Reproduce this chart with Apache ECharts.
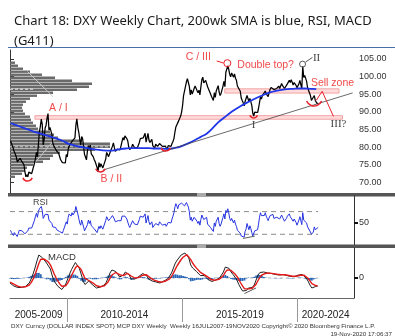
<!DOCTYPE html>
<html><head><meta charset="utf-8">
<script src="https://cdn.jsdelivr.net/npm/echarts@6/dist/echarts.min.js"></script>
<style>html,body{margin:0;padding:0;background:#fff}#c{width:395px;height:336px}</style>
</head><body><div id="c"></div>
<script>
// ---- time grids (decimal years) ----
const halfMonthStart = 2007.5625;   // 2nd half of Jul 2007, one value per half month
const monthStart = 2007.54;         // Jul 2007, one value per month
const quarterStart = 2007.5625;     // 200wk SMA sampled quarterly

// ---- DXY weekly price (half-monthly samples) ----
const priceValues = [
 81.8,81.0,80.6,79.5,78.6,78.0,77.2,75.8,75.5,76.2,76.8,
 76.3,75.8,75.3,75.0,73.0,71.6,72.2,71.6,72.9,72.4,73.0,72.5,72.2,72.4,75.5,76.9,78.5,77.2,80.8,84.3,85.8,87.9,86.5,80.6,
 82.2,85.4,86.2,88.2,89.5,84.8,85.6,85.2,83.6,81.2,80.4,80.6,80.1,78.9,79.0,78.3,77.4,76.5,76.6,75.6,75.9,75.2,75.5,77.9,
 77.2,79.4,80.3,80.5,80.2,81.6,81.1,81.4,82.6,86.2,88.0,85.6,84.2,82.3,80.6,83.0,82.4,80.1,77.9,77.2,76.4,78.9,80.4,79.4,
 80.6,78.1,77.6,77.3,76.5,75.9,75.6,74.3,73.0,75.6,74.3,75.3,75.0,74.1,74.4,73.9,76.6,78.5,78.9,77.3,76.9,78.8,78.6,80.2,
 81.2,79.9,78.8,79.3,79.4,79.3,79.7,79.2,79.6,81.6,82.7,82.0,83.2,83.6,82.4,81.7,80.0,79.3,79.8,79.9,80.8,80.4,79.9,79.6,
 80.3,79.8,79.6,81.3,82.4,82.8,82.4,82.6,82.1,83.9,81.4,82.6,83.9,82.0,81.3,81.2,82.2,80.4,80.3,79.7,80.8,80.6,80.2,80.3,
 81.0,80.6,80.9,80.2,79.8,80.2,80.3,79.8,79.3,80.4,80.6,80.4,80.2,81.0,81.6,82.4,84.2,85.7,85.8,85.3,87.5,88.0,88.8,90.0,
 91.8,94.6,94.3,94.6,98.5,99.4,98.3,97.2,94.8,96.2,95.0,95.4,96.6,97.3,97.4,96.0,95.4,96.1,94.8,97.0,99.1,99.8,98.2,98.6,
 98.9,99.3,97.1,97.3,97.0,95.1,94.4,94.6,93.2,95.4,94.1,95.9,96.2,97.4,95.6,94.6,95.2,95.6,97.2,98.6,97.1,101.2,100.9,103.0,
 102.1,100.6,99.9,101.0,101.4,99.8,100.7,99.5,98.9,97.3,97.0,97.5,95.8,93.9,93.2,92.6,91.7,92.9,93.2,94.6,94.8,92.9,93.8,92.8,
 91.8,89.6,88.8,89.9,90.1,89.6,89.8,91.0,92.6,94.2,93.6,94.6,94.2,94.4,95.9,95.1,95.0,94.3,95.4,96.3,96.9,96.5,97.2,96.3,
 95.8,95.8,96.6,96.5,97.3,96.6,97.0,98.0,97.4,97.8,96.6,96.2,97.1,97.9,97.7,98.9,98.3,99.1,98.7,97.6,98.3,98.3,97.5,96.8,
 97.0,97.9,98.9,98.6,96.5,102.9,99.7,100.3,99.9,98.6,96.8,97.3,96.6,94.6,93.2,92.9,93.1,94.6,93.2,92.8,92.3,92.4
];
// ---- 200 week SMA (quarterly samples) ----
const smaValues = [
 86.8,86.2,85.6,85.0,84.4,83.9,83.4,82.9,82.4,81.8,81.0,80.5,80.1,79.8,79.5,79.3,79.1,79.0,79.1,79.4,
 79.6,79.7,79.7,79.7,79.7,79.6,79.6,79.5,79.6,79.9,80.5,81.2,82.0,82.9,83.8,85.3,87.0,88.3,89.6,90.7,
 91.7,92.6,93.4,94.2,94.9,95.5,95.9,96.2,96.4,96.5,96.6,96.6,96.5,96.4
];
// ---- RSI (half-monthly samples) ----
const rsiValues = [
 37,33,30,28,33,36,30,26,31,37,40,
 38,36,38,35,31,29,33,36,41,39,43,41,38,42,55,62,67,60,70,75,74,79,72,58,
 61,65,63,67,65,55,57,54,49,43,40,43,42,38,40,37,35,33,36,32,37,35,38,52,
 48,60,66,65,62,68,64,66,70,79,80,66,58,50,46,55,52,43,36,34,33,47,55,49,
 54,45,44,43,40,37,38,33,31,44,40,45,43,39,41,40,54,61,62,54,52,58,57,63,
 65,57,52,54,55,54,56,52,54,62,64,59,62,64,57,54,46,42,46,47,54,52,48,47,
 50,47,46,56,62,64,59,60,57,66,50,57,63,52,47,46,52,42,41,39,49,48,46,46,
 52,50,51,46,44,47,48,44,42,51,53,51,50,57,62,68,78,84,80,75,82,82,83,85,
 86,88,80,78,86,84,78,70,55,60,53,55,60,62,62,53,49,53,46,56,64,66,56,58,
 58,60,48,50,49,42,39,41,35,50,44,53,55,60,49,44,48,50,60,66,57,72,68,75,
 68,58,54,58,60,50,55,48,44,37,36,39,32,27,30,28,25,35,39,49,50,38,45,40,
 33,27,29,36,38,36,38,48,60,68,63,66,62,63,68,62,58,54,59,63,66,62,65,58,
 55,56,60,59,63,57,59,64,60,62,53,51,58,62,60,66,61,64,60,53,57,57,51,46,
 49,55,61,58,47,68,55,58,56,50,43,46,42,34,30,31,34,43,38,36,36,42
];
// ---- MACD (monthly samples) ----
const macdValues = [
 -0.5,-0.65,-0.8,-0.9,-0.95,-1.0,-0.95,-0.9,-0.85,-0.75,-0.5,-0.1,0.4,1.0,1.7,2.3,2.5,2.0,1.8,1.5,
 1.4,0.9,0.2,-0.3,-0.6,-0.85,-1.05,-1.15,-1.0,-0.6,-0.1,0.4,0.85,1.2,1.55,1.6,1.0,0.4,-0.3,-0.65,
 -0.5,-0.3,-0.45,-0.7,-0.85,-1.0,-1.0,-0.9,-0.8,-0.7,-0.45,0.0,0.5,0.8,0.75,0.65,0.4,0.1,0.0,0.3,
 0.6,0.6,0.3,-0.1,-0.15,-0.1,0.0,0.15,0.3,0.45,0.5,0.25,-0.1,-0.2,-0.3,-0.35,-0.4,-0.45,-0.5,-0.4,
 -0.3,-0.2,-0.1,0.1,0.5,1.0,1.5,1.8,2.0,2.3,2.4,2.5,2.5,2.0,1.3,1.0,0.8,0.65,0.5,0.25,
 0.15,0.25,0.1,-0.15,-0.3,-0.35,-0.3,-0.2,-0.1,0.0,0.2,0.6,1.1,1.15,0.95,0.6,0.35,0.1,-0.2,-0.65,
 -1.0,-1.3,-1.5,-1.25,-1.0,-1.1,-0.95,-0.7,-0.2,0.3,0.55,0.65,0.6,0.55,0.5,0.5,0.45,0.4,0.35,0.35,
 0.3,0.3,0.35,0.3,0.25,0.2,0.15,0.1,0.15,0.2,0.3,0.35,0.35,0.2,0.0,-0.3,-0.7,-1.0,-0.95,-0.85,
 -0.8
];
const signalValues = [
 -0.4,-0.5,-0.62,-0.73,-0.82,-0.89,-0.91,-0.91,-0.88,-0.83,-0.7,-0.46,-0.12,0.33,0.88,1.45,1.87,1.92,1.87,1.72,
 1.59,1.31,0.87,0.4,0.0,-0.34,-0.62,-0.83,-0.9,-0.78,-0.51,-0.14,0.25,0.63,1.0,1.24,1.14,0.85,0.39,-0.03,
 -0.22,-0.25,-0.33,-0.48,-0.63,-0.78,-0.87,-0.88,-0.85,-0.79,-0.65,-0.39,-0.03,0.3,0.48,0.55,0.49,0.33,0.2,0.24,
 0.38,0.47,0.4,0.2,0.06,0.0,0.0,0.06,0.16,0.28,0.37,0.32,0.15,0.01,-0.11,-0.21,-0.29,-0.35,-0.41,-0.41,
 -0.37,-0.3,-0.22,-0.09,0.15,0.49,0.89,1.25,1.55,1.85,2.07,2.24,2.34,2.2,1.84,1.5,1.22,0.99,0.79,0.57,
 0.4,0.34,0.24,0.08,-0.07,-0.18,-0.23,-0.22,-0.17,-0.1,0.02,0.25,0.59,0.81,0.87,0.76,0.6,0.4,0.16,-0.16,
 -0.5,-0.82,-1.09,-1.15,-1.09,-1.09,-1.03,-0.9,-0.62,-0.25,0.07,0.3,0.42,0.47,0.48,0.49,0.47,0.44,0.4,0.38,
 0.35,0.33,0.34,0.32,0.29,0.25,0.21,0.17,0.16,0.18,0.23,0.28,0.31,0.27,0.16,-0.02,-0.29,-0.57,-0.72,-0.77,
 -0.78
];
const histValues = [
 -0.06,-0.09,-0.11,-0.1,-0.08,-0.07,-0.03,0.0,0.02,0.05,0.12,0.22,0.31,0.4,0.49,0.51,0.38,0.05,-0.04,-0.13,
 -0.11,-0.24,-0.4,-0.42,-0.36,-0.31,-0.26,-0.19,-0.06,0.11,0.25,0.32,0.36,0.34,0.33,0.22,-0.08,-0.27,-0.41,-0.37,
 -0.17,-0.03,-0.07,-0.13,-0.13,-0.13,-0.08,-0.01,0.03,0.05,0.12,0.23,0.32,0.3,0.16,0.06,-0.05,-0.14,-0.12,0.04,
 0.13,0.08,-0.06,-0.18,-0.13,-0.06,0.0,0.05,0.08,0.1,0.08,-0.04,-0.15,-0.13,-0.11,-0.08,-0.07,-0.06,-0.05,0.01,
 0.04,0.06,0.07,0.11,0.21,0.31,0.37,0.33,0.27,0.27,0.2,0.16,0.1,-0.12,-0.33,-0.3,-0.25,-0.2,-0.17,-0.19,
 -0.15,-0.05,-0.08,-0.14,-0.14,-0.1,-0.04,0.01,0.04,0.06,0.11,0.21,0.31,0.2,0.05,-0.1,-0.15,-0.18,-0.22,-0.29,
 -0.3,-0.29,-0.25,-0.06,0.05,0.0,0.05,0.12,0.25,0.33,0.29,0.21,0.11,0.05,0.01,0.01,-0.01,-0.02,-0.03,-0.02,
 -0.03,-0.02,0.01,-0.01,-0.02,-0.03,-0.04,-0.04,-0.01,0.01,0.04,0.04,0.02,-0.04,-0.1,-0.17,-0.25,-0.26,-0.14,-0.05,
 -0.01
];
// ---- volume-at-price profile ----
const profilePrices = [71.6,72.45,73.3,74.15,75.0,75.85,76.7,77.55,78.4,79.25,80.1,80.95,81.8,82.65,83.5,84.35,85.2,86.05,86.9,87.75,88.6,89.45,90.3,91.15,92.0,92.85,93.7,94.55,95.4,96.25,97.1,97.95,98.8,99.65,100.5,101.35,102.2,103.05,103.9];
const profileVolumes = [5,12,15,17,23,33,40,43,50,85,100,100,72,48,44,40,28,26,23,21,20,15,13,12,13,16,20,27,43,67,79,82,62,45,32,20,13,8,5];

// ---- axis ticks / labels ----
const priceTicks = [70,75,80,85,90,95,100,105];
const rsiTicks = [50];
const macdTicks = [0];
const yearSeparators = [2010,2015,2020];
const periodLabels = ['2005-2009','2010-2014','2015-2019','2020-2024'];
const periodLabelAt = [2008.78,2012.5,2017.5,2021.22];

// ---- drawn studies / annotations (data coordinates) ----
const zoneBands = [ {from:2008.62,to:2021.95,low:87.9,high:88.9}, {from:2016.85,to:2021.8,low:95.3,high:96.5} ];
const trendLine = [[2011.57,73.5],[2022.39,95.35]];
const profileGuides = [ [[2008.3,101.4],[2009.4,94.3]], [[2008.54,74.9],[2009.5,82.4]] ];
const pocLine = [[2007.54,80.1],[2011.87,80.1]];
const valueAreaLine = [[2007.54,96.4],[2008.62,96.4]];
const projection = [[2020.81,93.2],[2021.07,95.8],[2021.56,88.7]];
const rsiLevels = [70,30];
const rsiDivergence = [[2017.64,22.7],[2018.15,26.7]];
const macdDivergence = [[2017.7,-1.56],[2018.2,-1.0]];
const marks = [
 {kind:'smile',t:2008.3,v:71.8,r:5,c:'#e8202a'},
 {kind:'smile',t:2011.46,v:74.4,r:5,c:'#e8202a'},
 {kind:'smile',t:2014.29,v:80.3,r:5,c:'#e8202a'},
 {kind:'smile',t:2018.1,v:89.4,r:4,c:'#e8202a'},
 {kind:'smile',t:2020.72,v:93.9,r:8,c:'#e8202a'},
 {kind:'circle',t:2016.96,v:103.77,r:3.5,c:'#e8202a'},
 {kind:'circle',t:2020.22,v:103.5,r:3,c:'#555'},
 {kind:'seg',t:2016.5,v:104.4,t2:2016.8,v2:103.8,c:'#e8202a'},
 {kind:'seg',t:2020.35,v:104.1,t2:2020.65,v2:105.4,c:'#555'}
];
const notes = [
 {text:'A / I',t:2009.64,v:91.0,c:'#f04a4a',serif:false},
 {text:'B / II',t:2011.93,v:71.0,c:'#f04a4a',serif:false},
 {text:'C / III',t:2015.7,v:105.5,c:'#f04a4a',serif:false},
 {text:'Double top?',t:2018.62,v:103.3,c:'#f04a4a',serif:false},
 {text:'II',t:2020.83,v:105.2,c:'#444',serif:true},
 {text:'Sell zone',t:2021.52,v:98.1,c:'#f04a4a',serif:false},
 {text:'I',t:2018.1,v:86.3,c:'#444',serif:true},
 {text:'III?',t:2021.78,v:86.6,c:'#444',serif:true}
];

// ---- build ----
const priceData = priceValues.map((v,i)=>[halfMonthStart+i/24, v]);
const rsiData = rsiValues.map((v,i)=>[halfMonthStart+i/24, v]);
const smaData = smaValues.map((v,i)=>[quarterStart+i*0.25, v]);
const macdData = macdValues.map((v,i)=>[monthStart+i/12, v]);
const sigData = signalValues.map((v,i)=>[monthStart+i/12, v]);
const histData = histValues.map((v,i)=>[monthStart+i/12, v]);
const lastT = priceData[priceData.length-1][0];
const binHalf = (profilePrices[1]-profilePrices[0])*0.4;

const X0 = 2007.54, X1 = 2022.45;
const baseX = (g)=>({type:'value',gridIndex:g,min:X0,max:X1,show:false});
const lineS = (data, color, width, extra)=>Object.assign({type:'line',data,symbol:'none',lineStyle:{color,width},itemStyle:{color},silent:true,z:3},extra||{});

const chart = echarts.init(document.getElementById('c'), null, {renderer:'canvas'});
chart.setOption({
 animation:false,
 title:{text:'Chart 18: DXY Weekly Chart, 200wk SMA is blue, RSI, MACD\n(G411)',left:9,top:6,
   textStyle:{fontFamily:'Noto Sans',fontSize:13,fontWeight:'normal',color:'#1a1a1a',lineHeight:20}},
 grid:[
  {left:10,right:41,top:50,height:143},
  {left:10,right:41,top:196,height:48.5},
  {left:10,right:41,top:248,height:50}
 ],
 xAxis:[
  baseX(0), baseX(1),
  {type:'value',gridIndex:2,min:X0,max:X1,position:'bottom',
   axisLine:{show:true,onZero:false,lineStyle:{color:'#666',width:1}},
   axisTick:{show:true,customValues:yearSeparators,length:24,lineStyle:{color:'#999',width:1}},
   axisLabel:{show:true,customValues:periodLabelAt,margin:12,color:'#222',fontFamily:'Liberation Sans',fontSize:10,
     formatter:(v)=>{const k=periodLabelAt.findIndex(p=>Math.abs(p-v)<1e-6);return k>=0?periodLabels[k]:'';}},
   splitLine:{show:false}},
  {type:'value',gridIndex:0,min:0,max:344,show:false}
 ],
 yAxis:[
  {type:'value',gridIndex:0,position:'right',min:67,max:107.5,
   axisLine:{show:true,lineStyle:{color:'#333'}},
   axisTick:{show:true,customValues:priceTicks,length:4,lineStyle:{color:'#333'}},
   axisLabel:{customValues:priceTicks,margin:5,color:'#333',fontFamily:'Liberation Sans',fontSize:9,formatter:v=>v.toFixed(2)},
   splitLine:{show:false}},
  {type:'value',gridIndex:1,position:'right',min:12,max:97.5,
   axisLine:{show:true,lineStyle:{color:'#333'}},
   axisTick:{show:true,customValues:rsiTicks,length:4,lineStyle:{color:'#111',width:2}},
   axisLabel:{customValues:rsiTicks,margin:5,color:'#333',fontFamily:'Liberation Sans',fontSize:9},
   splitLine:{show:false}},
  {type:'value',gridIndex:2,position:'right',min:-2,max:3,
   axisLine:{show:true,lineStyle:{color:'#333'}},
   axisTick:{show:true,customValues:macdTicks,length:4,lineStyle:{color:'#111',width:2}},
   axisLabel:{customValues:macdTicks,margin:5,color:'#333',fontFamily:'Liberation Sans',fontSize:9},
   splitLine:{show:false}}
 ],
 graphic:[
  {type:'line',shape:{x1:8,y1:47.5,x2:395,y2:47.5},style:{stroke:'#4a6fa5',lineWidth:1}},
  {type:'rect',shape:{x:8,y:193,width:387,height:3.5},style:{fill:'#555'}},
  {type:'rect',shape:{x:197,y:193,width:9,height:3.5},style:{fill:'#aaa'}},
  {type:'rect',shape:{x:8,y:244.5,width:387,height:3.5},style:{fill:'#555'}},
  {type:'rect',shape:{x:197,y:244.5,width:9,height:3.5},style:{fill:'#aaa'}},
  {type:'text',x:33,y:198,style:{text:'RSI',fill:'#444',font:'9px Liberation Sans'}},
  {type:'text',x:48,y:252,style:{text:'MACD',fill:'#333',font:'9.5px Liberation Sans'}},
  {type:'text',x:11,y:323,style:{text:'DXY Curncy (DOLLAR INDEX SPOT) MCP DXY Weekly  Weekly 16JUL2007-19NOV2020 Copyright\u00a9 2020 Bloomberg Finance L.P.',fill:'#333',font:'6.2px Liberation Sans'}},
  {type:'text',x:392,y:331,style:{text:'19-Nov-2020 17:06:37',fill:'#333',font:'6.2px Liberation Sans',align:'right'}}
 ],
 series:[
  {type:'custom',xAxisIndex:3,yAxisIndex:0,silent:true,z:1,
   data:profilePrices.map((p,i)=>[profileVolumes[i],p]),
   renderItem:(params,api)=>{
     const a=api.coord([0,api.value(1)+binHalf]), b=api.coord([api.value(0),api.value(1)-binHalf]);
     return {type:'rect',shape:{x:a[0],y:a[1],width:b[0]-a[0],height:b[1]-a[1]},style:{fill:'#6a6a6a'}};
   }},
  lineS(pocLine,'#bbb',1,{xAxisIndex:0,yAxisIndex:0,lineStyle:{color:'#c8c8c8',width:1,type:[3,2]},z:2}),
  lineS(valueAreaLine,'#fff',1,{xAxisIndex:0,yAxisIndex:0,lineStyle:{color:'#eee',width:1,type:[3,2]},z:2}),
  ...profileGuides.map(g=>lineS(g,'#c8c8c8',1,{xAxisIndex:0,yAxisIndex:0,z:2})),
  lineS(priceData,'#000',1.25,{xAxisIndex:0,yAxisIndex:0,z:4,
    markArea:{silent:true,itemStyle:{color:'rgba(255,170,170,0.42)',borderColor:'#f3a3a3',borderWidth:1},
      data:zoneBands.map(b=>[{xAxis:b.from,yAxis:b.high},{xAxis:b.to,yAxis:b.low}])}}),
  lineS(smaData,'#1f35e8',1.8,{xAxisIndex:0,yAxisIndex:0,smooth:0.4,z:5}),
  lineS(trendLine,'#444',0.8,{xAxisIndex:0,yAxisIndex:0,z:5}),
  lineS(projection,'#e8202a',1,{xAxisIndex:0,yAxisIndex:0,z:6}),
  {type:'custom',xAxisIndex:0,yAxisIndex:0,silent:true,z:7,clip:false,
   data:marks.map((m,i)=>[m.t,m.v,i]),
   renderItem:(params,api)=>{
     const m=marks[api.value(2)]; const c=api.coord([m.t,m.v]);
     if(m.kind==='smile') return {type:'arc',shape:{cx:c[0],cy:c[1],r:m.r,startAngle:Math.PI*0.12,endAngle:Math.PI*0.88},style:{stroke:m.c,lineWidth:1.5,fill:null}};
     if(m.kind==='circle') return {type:'circle',shape:{cx:c[0],cy:c[1],r:m.r},style:{stroke:m.c,lineWidth:1,fill:null}};
     const d=api.coord([m.t2,m.v2]);
     return {type:'line',shape:{x1:c[0],y1:c[1],x2:d[0],y2:d[1]},style:{stroke:m.c,lineWidth:1}};
   }},
  {type:'custom',xAxisIndex:0,yAxisIndex:0,silent:true,z:8,clip:false,
   data:notes.map((n,i)=>[n.t,n.v,i]),
   renderItem:(params,api)=>{
     const n=notes[api.value(2)]; const c=api.coord([n.t,n.v]);
     return {type:'text',x:c[0],y:c[1],style:{text:n.text,fill:n.c,align:'center',verticalAlign:'middle',
       font:n.serif?'11px Liberation Serif':'10.5px Liberation Sans'}};
   }},
  // RSI
  ...rsiLevels.map(l=>lineS([[X0,l],[lastT,l]],'#888',1,{xAxisIndex:1,yAxisIndex:1,lineStyle:{color:'#8a8a8a',width:1,type:[5,4]},z:2})),
  lineS(rsiData,'#2633e0',1,{xAxisIndex:1,yAxisIndex:1}),
  lineS(rsiDivergence,'#333',0.8,{xAxisIndex:1,yAxisIndex:1}),
  // MACD
  lineS([[X0,0],[lastT,0]],'#bbb',1,{xAxisIndex:2,yAxisIndex:2,lineStyle:{color:'#bbb',width:1,type:[3,3]},z:1}),
  {type:'bar',xAxisIndex:2,yAxisIndex:2,data:histData,barWidth:1.8,itemStyle:{color:'#2a66b8'},silent:true,z:2},
  lineS(macdData,'#222',1,{xAxisIndex:2,yAxisIndex:2,z:3}),
  lineS(sigData,'#e41a1a',1.4,{xAxisIndex:2,yAxisIndex:2,z:4}),
  lineS(macdDivergence,'#333',0.8,{xAxisIndex:2,yAxisIndex:2,z:5})
 ]
});
</script></body></html>
